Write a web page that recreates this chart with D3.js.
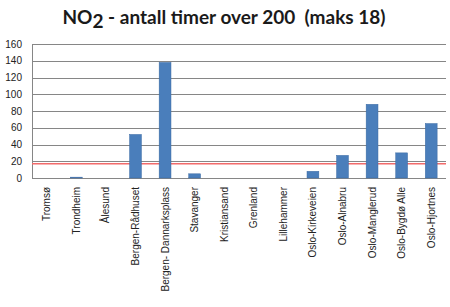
<!DOCTYPE html>
<html>
<head>
<meta charset="utf-8">
<script src="https://cdn.jsdelivr.net/npm/d3@7"></script>
<style>
  body { margin: 0; background: #fff; }
  svg { display: block; }
</style>
</head>
<body>
<div id="chart"></div>
<script>
// data
var stations = ["Tromsø", "Trondheim", "Ålesund", "Bergen-Rådhuset", "Bergen- Dannarksplass",
  "Stavanger", "Kristiansand", "Grenland", "Lillehammer", "Oslo-Kirkeveien",
  "Oslo-Alnabru", "Oslo-Manglerud", "Oslo-Bygdø Alle", "Oslo-Hjortnes"];
var hours = [0, 1, 0, 52, 138, 5, 0, 0, 0, 8, 27, 88, 30, 65];
var limit = 17;
var yTicks = [0, 20, 40, 60, 80, 100, 120, 140, 160];

var W = 450, H = 307;
var margin = {top: 44, right: 4, bottom: 129, left: 32},
    width = W - margin.left - margin.right,
    height = H - margin.top - margin.bottom;

var svg = d3.select("#chart")
  .append("svg")
    .attr("width", W)
    .attr("height", H);

// title with subscript
var title = svg.append("text")
  .attr("x", 224)
  .attr("y", 24)
  .attr("text-anchor", "middle")
  .style("white-space", "pre")
  .style("font-family", "Lato, 'Open Sans', sans-serif")
  .style("font-weight", "bold")
  .style("font-size", "19px")
  .attr("fill", "#1a1a1a");
title.append("tspan").text("NO");
title.append("tspan").attr("dy", 4).text("2");
title.append("tspan").attr("dy", -4).text(" - antall timer over 200  (maks 18)");

var g = svg.append("g")
  .attr("transform", "translate(" + margin.left + "," + margin.top + ")");

var x = d3.scaleBand()
  .domain(stations)
  .range([0, width])
  .paddingInner(0.6)
  .paddingOuter(0.3);

var y = d3.scaleLinear()
  .domain([0, 160])
  .range([height, 0]);

// gridlines
g.selectAll(".grid")
  .data(yTicks)
  .enter().append("line")
    .attr("x1", 0)
    .attr("x2", width)
    .attr("y1", function(d) { return Math.round(y(d)) + 0.5; })
    .attr("y2", function(d) { return Math.round(y(d)) + 0.5; })
    .attr("stroke", "#868686")
    .attr("stroke-width", 1);

// y axis
var yAxis = g.append("g")
  .call(d3.axisLeft(y).tickValues(yTicks).tickSize(0).tickPadding(10));
yAxis.select(".domain").attr("stroke", "#868686").attr("d", "M0.5," + height + "V0");
yAxis.selectAll("text")
  .style("font-family", "'Liberation Sans', Arial, sans-serif")
  .style("font-size", "10px")
  .attr("fill", "#222");

// limit line (behind the bars)
g.append("line")
  .attr("x1", 0)
  .attr("x2", width)
  .attr("y1", y(limit))
  .attr("y2", y(limit))
  .attr("stroke", "#f26b6b")
  .attr("stroke-width", 1.5);

// bars
g.selectAll(".bar")
  .data(hours)
  .enter().append("rect")
    .attr("x", function(d, i) { return x(stations[i]); })
    .attr("width", x.bandwidth())
    .attr("y", function(d) { return y(d); })
    .attr("height", function(d) { return height - y(d); })
    .attr("fill", "#4a7ebb")
    .attr("stroke", "#3b6aa3")
    .attr("stroke-width", 0.5);

// x axis with rotated labels
var xAxis = g.append("g")
  .attr("transform", "translate(0," + height + ")")
  .call(d3.axisBottom(x).tickSize(0));
xAxis.select(".domain").remove();
xAxis.selectAll("text")
  .attr("transform", "rotate(-90)")
  .attr("x", -9)
  .attr("y", 0)
  .attr("dy", "0.35em")
  .attr("text-anchor", "end")
  .style("font-family", "'Liberation Sans', Arial, sans-serif")
  .style("font-size", "10px")
  .attr("fill", "#222");
</script>
</body>
</html>
